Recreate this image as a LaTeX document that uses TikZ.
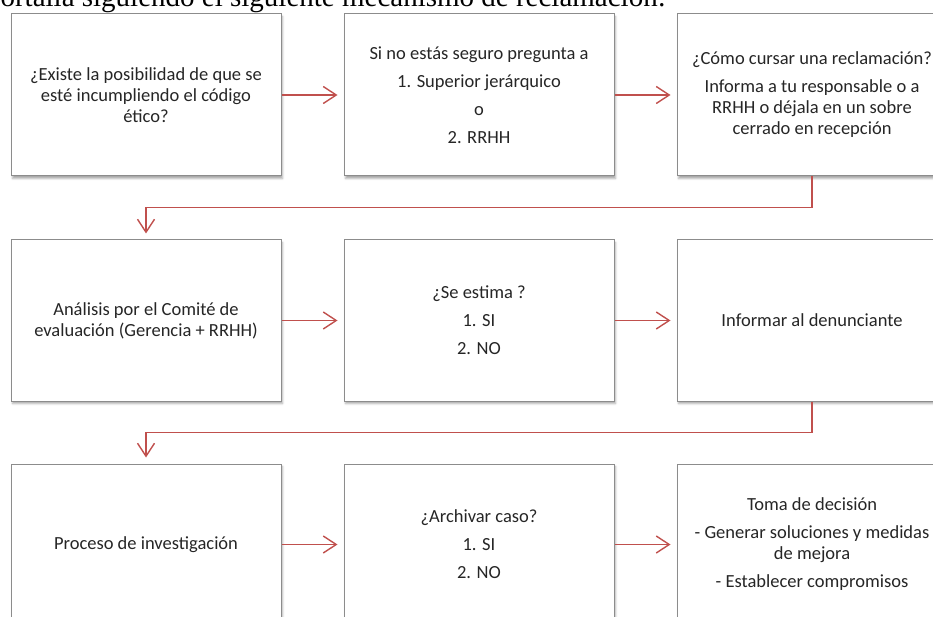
\documentclass[tikz,border=0pt]{standalone}
\usepackage{xcolor}
\usepackage{fontspec}
\setmainfont{Carlito}
\newfontfamily\headfont{Liberation Serif}
\usetikzlibrary{positioning, arrows.meta, shadows.blur}
\definecolor{rojo}{RGB}{192,80,77}
\definecolor{borde}{RGB}{140,140,140}
\tikzset{
    >={Straight Barb[length=13pt,width=17pt]}, % open arrow heads
    node distance=62pt, % gap between two boxes
    caja/.style={draw=borde, line width=1pt, fill=white, minimum width=270pt, minimum height=162pt,
        align=center, text=black!85, font=\fontsize{18.5}{21}\selectfont,
        blur shadow={shadow xshift=1.5pt, shadow yshift=-2.5pt, shadow blur radius=2pt, shadow opacity=35}},
    flecha/.style={->, draw=rojo, line width=1.4pt, shorten >=6pt},
}

\begin{document}
\begin{tikzpicture}[x=1pt,y=1pt]
    \useasboundingbox (0,0) rectangle (933,-617);
    \clip (0,0) rectangle (933,-617);
    \node[anchor=base west, font=\headfont\fontsize{29}{33}\selectfont] (titulo) at (-3,-7)
        {ortalia siguiendo el siguiente mecanismo de reclamación:};
    % first row
    \node[caja] (existe) at (146,-95) {¿Existe la posibilidad de que se\\ esté incumpliendo el código\\ ético?};
    \node[caja, right=of existe] (pregunta) {Si no estás seguro pregunta a\\[7pt] 1. Superior jerárquico\\[7pt] o\\[7pt] 2. RRHH};
    \node[caja, right=of pregunta] (cursar) {¿Cómo cursar una reclamación?\\[7pt] Informa a tu responsable o a\\ RRHH o déjala en un sobre\\ cerrado en recepción};
    % second row
    \node[caja, below=63pt of existe, minimum height=161pt] (analisis) {Análisis por el Comité de\\ evaluación (Gerencia + RRHH)};
    \node[caja, right=of analisis, minimum height=161pt] (estima) {¿Se estima ?\\[7pt] 1. SI\\[7pt] 2. NO};
    \node[caja, right=of estima, minimum height=161pt] (informar) {Informar al denunciante};
    % third row
    \node[caja, below=of analisis, minimum height=161pt] (proceso) {Proceso de investigación};
    \node[caja, right=of proceso, minimum height=161pt] (archivar) {¿Archivar caso?\\[7pt] 1. SI\\[7pt] 2. NO};
    \node[caja, right=of archivar, minimum height=161pt] (decision) {Toma de decisión\\[7pt] - Generar soluciones y medidas\\ de mejora\\[7pt] - Establecer compromisos};

    \draw[flecha] (existe) -- (pregunta);
    \draw[flecha] (pregunta) -- (cursar);
    \draw[flecha] (cursar.south) -- ++(0,-31) -| (analisis.north);
    \draw[flecha] (analisis) -- (estima);
    \draw[flecha] (estima) -- (informar);
    \draw[flecha] (informar.south) -- ++(0,-31) -| (proceso.north);
    \draw[flecha] (proceso) -- (archivar);
    \draw[flecha] (archivar) -- (decision);
\end{tikzpicture}
\end{document}
